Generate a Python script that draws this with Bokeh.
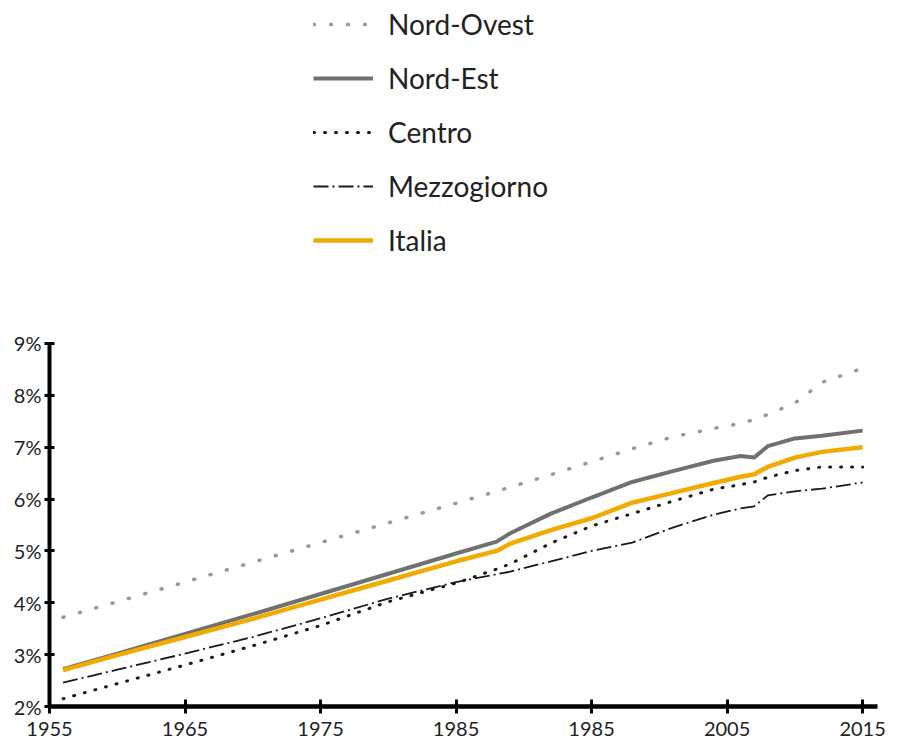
from bokeh.plotting import figure
from bokeh.models import Range1d, FixedTicker, Legend, LegendItem
from bokeh.embed import file_html
from bokeh.resources import INLINE

years = [1956, 1960, 1965, 1970, 1975, 1980, 1985, 1988, 1989, 1992, 1995,
         1998, 2001, 2004, 2006, 2007, 2008, 2010, 2012, 2015]
nord_ovest = [3.72, 4.02, 4.40, 4.78, 5.16, 5.54, 5.92, 6.15, 6.23, 6.47, 6.72,
              6.97, 7.20, 7.36, 7.46, 7.53, 7.63, 7.85, 8.25, 8.52]
nord_est = [2.72, 3.02, 3.40, 3.78, 4.17, 4.56, 4.95, 5.18, 5.34, 5.72, 6.03,
            6.33, 6.54, 6.74, 6.83, 6.80, 7.02, 7.17, 7.22, 7.32]
centro = [2.15, 2.44, 2.80, 3.17, 3.56, 4.02, 4.38, 4.65, 4.75, 5.15, 5.48,
          5.72, 5.96, 6.19, 6.28, 6.33, 6.42, 6.55, 6.62, 6.62]
mezzogiorno = [2.46, 2.71, 3.02, 3.34, 3.70, 4.08, 4.40, 4.55, 4.60, 4.80, 5.00,
               5.16, 5.45, 5.70, 5.82, 5.86, 6.07, 6.15, 6.20, 6.32]
italia = [2.70, 2.99, 3.34, 3.69, 4.06, 4.43, 4.80, 5.00, 5.14, 5.40, 5.63,
          5.93, 6.12, 6.31, 6.43, 6.48, 6.62, 6.80, 6.91, 7.00]

x_ticks = [1955, 1965, 1975, 1985, 1995, 2005, 2015]
x_tick_labels = ["1955", "1965", "1975", "1985", "1985", "2005", "2015"]
y_ticks = [2, 3, 4, 5, 6, 7, 8, 9]
y_tick_labels = ["2%", "3%", "4%", "5%", "6%", "7%", "8%", "9%"]
series_names = ["Nord-Ovest", "Nord-Est", "Centro", "Mezzogiorno", "Italia"]

FONT = "Lato"

p = figure(frame_width=828, frame_height=698, output_backend="svg",
           toolbar_location=None, x_range=Range1d(1955, 2016.1),
           y_range=Range1d(2, 15.46), min_border_top=8, min_border_left=49,
           min_border_right=14, min_border_bottom=0)
p.outline_line_color = None
p.grid.grid_line_color = None
p.background_fill_color = "white"

r_no = p.line(years, nord_ovest, line_color="#999999", line_width=3.5,
              line_dash="1 16", line_cap="round")
r_ne = p.line(years, nord_est, line_color="#707070", line_width=4)
r_ce = p.line(years, centro, line_color="#1a1a1a", line_width=3,
              line_dash="1 10", line_cap="round")
r_me = p.line(years, mezzogiorno, line_color="#1a1a1a", line_width=1.8,
              line_dash="15 4 2 4")
r_it = p.line(years, italia, line_color="#F2AA00", line_width=4.5)

# axes
xa = p.xaxis[0]
xa.ticker = FixedTicker(ticks=x_ticks)
xa.major_label_overrides = {t: l for t, l in zip(x_ticks, x_tick_labels)}
xa.axis_line_width = 4.5
xa.axis_line_color = "black"
xa.major_tick_line_width = 3
xa.major_tick_line_color = "black"
xa.major_tick_in = 7
xa.major_tick_out = 7
xa.minor_tick_line_color = None
xa.major_label_standoff = 8
xa.major_label_text_font = FONT
xa.major_label_text_font_size = "20px"
xa.major_label_text_color = "#222222"

ya = p.yaxis[0]
ya.ticker = FixedTicker(ticks=y_ticks)
ya.bounds = (2, 9)
ya.major_label_overrides = {t: l for t, l in zip(y_ticks, y_tick_labels)}
ya.axis_line_width = 4
ya.axis_line_color = "black"
ya.major_tick_line_width = 3
ya.major_tick_line_color = "black"
ya.major_tick_in = 5
ya.major_tick_out = 5
ya.minor_tick_line_color = None
ya.major_label_standoff = 3
ya.major_label_text_font = FONT
ya.major_label_text_font_size = "20px"
ya.major_label_text_color = "#222222"

renderers = [r_no, r_ne, r_ce, r_me, r_it]
legend = Legend(items=[LegendItem(label=n, renderers=[r])
                       for n, r in zip(series_names, renderers)],
                location=(264, 449), orientation="vertical")
legend.border_line_color = None
legend.background_fill_alpha = 0
legend.padding = 0
legend.margin = 0
legend.spacing = 20
legend.glyph_width = 60
legend.glyph_height = 30
legend.label_height = 30
legend.label_standoff = 15
legend.label_text_font = FONT
legend.label_text_font_size = "28px"
legend.label_text_color = "#222222"
legend.label_text_baseline = "middle"
p.add_layout(legend, "center")

open("out.html", "w").write(file_html(p, INLINE))
